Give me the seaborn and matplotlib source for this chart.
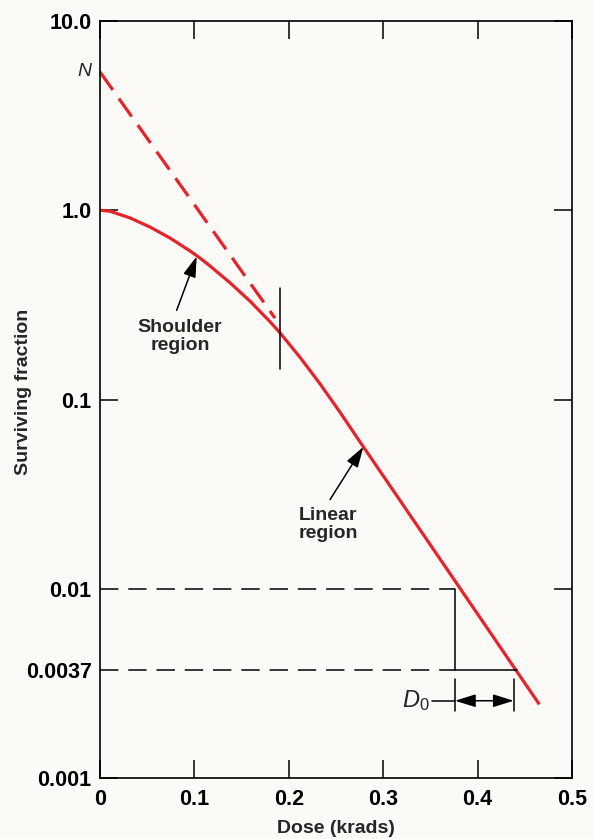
import numpy as np
import pandas as pd
import matplotlib
matplotlib.use("Agg")
import matplotlib.pyplot as plt
import seaborn as sns

# ---- data ----
dose_curve = [0.0, 0.0106, 0.0318, 0.053, 0.0742, 0.0953, 0.1059, 0.1165, 0.1377,
              0.1589, 0.180, 0.1907, 0.2119, 0.2331, 0.2542, 0.2754, 0.286, 0.3072,
              0.3284, 0.3496, 0.3708, 0.3837, 0.4131, 0.4413, 0.4654]
surv_curve = [1.0, 0.988, 0.911, 0.815, 0.713, 0.610, 0.559, 0.508, 0.414,
              0.331, 0.258, 0.225, 0.167, 0.121, 0.0857, 0.0597, 0.0500, 0.0350,
              0.0245, 0.01716, 0.01202, 0.00967, 0.0059, 0.00367, 0.00245]

dose_extrap = [0.0, 0.1854]
surv_extrap = [5.38, 0.269]

d_at_001 = 0.376
d_at_00037 = 0.4413
ref_levels = [0.01, 0.0037]

yticks = [10.0, 1.0, 0.1, 0.01, 0.0037, 0.001]
ytick_labels = ["10.0", "1.0", "0.1", "0.01", "0.0037", "0.001"]
xticks = [0, 0.1, 0.2, 0.3, 0.4, 0.5]
xtick_labels = ["0", "0.1", "0.2", "0.3", "0.4", "0.5"]

shoulder_mark_x = 0.1907
shoulder_mark_y = [0.386, 0.145]

RED = "#e6232b"
BG = "#fbfaf6"

sns.set_style("ticks")
plt.rcParams["font.family"] = ["Liberation Sans", "DejaVu Sans"]
plt.rcParams["font.weight"] = "bold"
plt.rcParams["mathtext.fontset"] = "custom"
plt.rcParams["mathtext.it"] = "Liberation Sans:italic:normal"
plt.rcParams["mathtext.rm"] = "Liberation Sans:normal"

fig = plt.figure(figsize=(5.93, 8.39), dpi=100, facecolor=BG)
ax = fig.add_axes([100/593, 1-778/839, 472/593, 757/839])
ax.set_facecolor(BG)

df_curve = pd.DataFrame({"dose": dose_curve, "surv": surv_curve})
df_ext = pd.DataFrame({"dose": dose_extrap, "surv": surv_extrap})

sns.lineplot(data=df_curve, x="dose", y="surv", ax=ax, color=RED, lw=2.3, sort=False)
sns.lineplot(data=df_ext, x="dose", y="surv", ax=ax, color=RED, lw=2.3, sort=False,
             linestyle=(0, (6.9, 3.3)))
for l in ax.lines:
    l.set_solid_joinstyle("round")
    l.set_solid_capstyle("butt")

ax.set_yscale("log")
ax.set_xlim(0, 0.5)
ax.set_ylim(0.001, 10)

# dashed reference lines
for lvl in ref_levels:
    ax.plot([0, d_at_001], [lvl, lvl], color="black", lw=1.1, linestyle=(0, (12, 6.5)))
# solid D0 construction
ax.plot([d_at_001, d_at_001], [0.01, 0.0037], color="black", lw=1.1)
ax.plot([d_at_001, d_at_00037], [0.0037, 0.0037], color="black", lw=1.1)
# shoulder end marker
ax.plot([shoulder_mark_x, shoulder_mark_x], shoulder_mark_y, color="black", lw=1.1)

# D0 arrows
d0_right = d_at_00037 - 0.003
for xv in [d_at_001, d0_right]:
    ax.plot([xv, xv], [0.00334, 0.00225], color="black", lw=1.1)
ax.annotate("", xy=(d_at_001, 0.00256), xytext=(d0_right, 0.00256),
            arrowprops=dict(arrowstyle="<|-|>,head_length=0.9,head_width=0.28",
                            color="black", lw=1.1,
                            mutation_scale=14, shrinkA=0, shrinkB=0))
ax.plot([0.352, d_at_001], [0.00256, 0.00256], color="black", lw=1.1)
ax.text(0.349, 0.00256, r"$D_0$", ha="right", va="center", fontsize=17,
        fontweight="normal")

arrow_kw = dict(arrowstyle="-|>,head_length=0.9,head_width=0.28", color="black",
                lw=1.1, mutation_scale=14, shrinkA=0, shrinkB=0)
# annotations
ax.annotate("", xy=(0.1024, 0.57), xytext=(0.0812, 0.296), arrowprops=arrow_kw)
ax.text(0.0847, 0.216, "Shoulder\nregion", ha="center", va="center", fontsize=14,
        fontweight="bold", linespacing=1.1)
ax.annotate("", xy=(0.279, 0.0562), xytext=(0.2437, 0.0296), arrowprops=arrow_kw)
ax.text(0.242, 0.0218, "Linear\nregion", ha="center", va="center", fontsize=14,
        fontweight="bold", linespacing=1.1)

ax.text(-0.009, 5.38, "N", ha="right", va="center", fontsize=14,
        style="italic", fontweight="normal")

# ticks
ax.set_yticks(yticks)
ax.set_yticklabels(ytick_labels)
ax.yaxis.set_minor_locator(matplotlib.ticker.NullLocator())
ax.set_xticks(xticks)
ax.set_xticklabels(xtick_labels)
ax.tick_params(axis="both", which="major", direction="in", length=13, width=1.1,
               labelsize=15.5, pad=6, top=True, right=True, colors="black")
ax.tick_params(axis="x", pad=8)
for lab in ax.get_xticklabels() + ax.get_yticklabels():
    lab.set_fontweight("bold")

ticks = ax.yaxis.get_major_ticks()
for i, v in enumerate(yticks):
    if v in (0.01, 0.0037):
        ticks[i].tick1line.set_visible(False)
    if v == 0.0037:
        ticks[i].tick2line.set_visible(False)

for s in ax.spines.values():
    s.set_linewidth(1.2)
    s.set_color("black")

ax.set_xlabel("Dose (krads)", fontsize=14, fontweight="bold")
ax.set_ylabel("Surviving fraction", fontsize=14, fontweight="bold")
ax.xaxis.set_label_coords(0.5, -0.056)
ax.yaxis.set_label_coords(-0.145, 0.51)

fig.savefig("out.png", dpi=100, facecolor=BG)
